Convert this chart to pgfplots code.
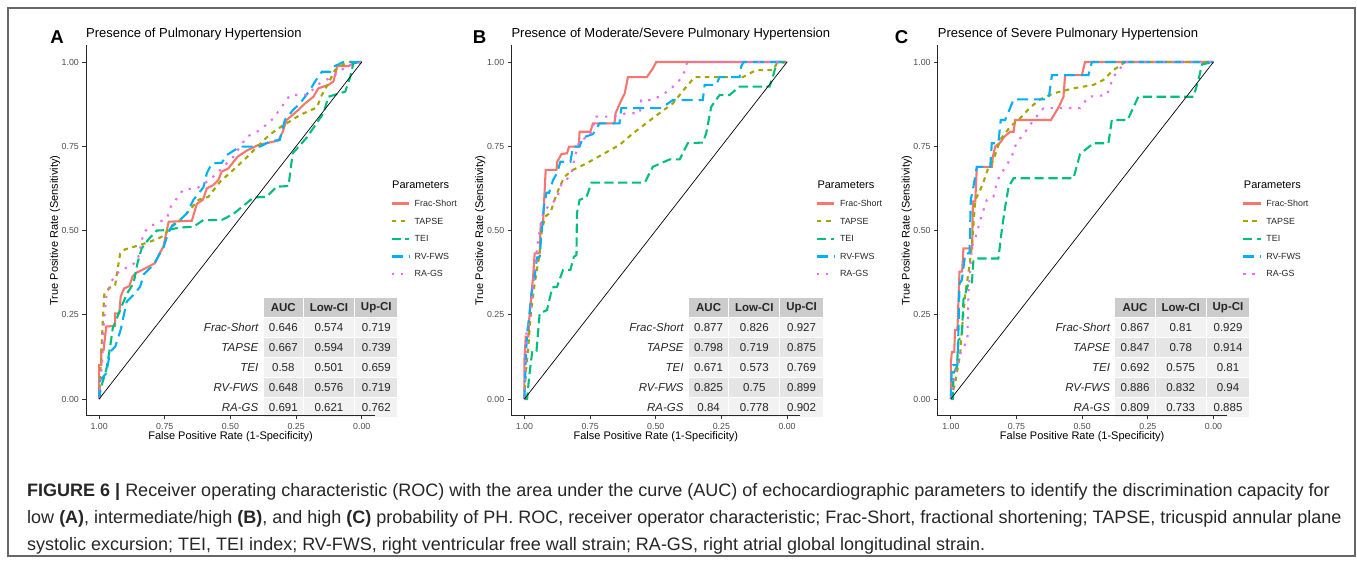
\documentclass[border=0pt]{standalone}
\usepackage{fontspec}
\setmainfont{Liberation Sans}
\usepackage{pgfplots}
\pgfplotsset{compat=1.18}

\definecolor{cFS}{HTML}{F8766D}
\definecolor{cTA}{HTML}{A3A500}
\definecolor{cTE}{HTML}{00BF7D}
\definecolor{cRV}{HTML}{00B0F6}
\definecolor{cRA}{HTML}{E76BF3}
\definecolor{g95}{gray}{0.95}
\definecolor{g90}{gray}{0.90}
\definecolor{g80}{gray}{0.80}
\definecolor{g30}{gray}{0.30}

\newcommand\fs[1]{\fontsize{#1}{#1}\selectfont}

\tikzset{
  rocfs/.style={draw=cFS, line width=2.1pt},
  rocta/.style={draw=cTA, line width=2.1pt, dash pattern=on 4.6pt off 4.6pt},
  rocte/.style={draw=cTE, line width=2.1pt, dash pattern=on 9.2pt off 4.6pt},
  rocrv/.style={draw=cRV, line width=2.1pt, dash pattern=on 11pt off 6pt},
  rocra/.style={draw=cRA, line width=2.1pt, dash pattern=on 2.3pt off 6.9pt},
}

\pgfplotsset{rocax/.style={
  scale only axis, width=288.9pt, height=370.7pt,
  xmin=-0.05, xmax=1.05, ymin=-0.05, ymax=1.05,
  x dir=reverse,
  axis x line*=bottom, axis y line*=left,
  axis line style={black!85, line width=0.9pt},
  xtick={0,0.25,0.5,0.75,1}, ytick={0,0.25,0.5,0.75,1},
  tick align=outside, major tick length=3.6pt,
  tick style={black!80, line width=0.9pt},
  ticklabel style={font=\fs{8.8}, text=g30},
  /pgf/number format/.cd, fixed, fixed zerofill, precision=2, assume math mode=true,
  /pgfplots/.cd,
}}

% panel decorations: X0, letter x, letter, title
\newcommand\panel[4]{%
  \node[anchor=base, inner sep=0, font=\fs{18.6}\bfseries] at (#2,43.3) {#3};
  \node[anchor=base west, inner sep=0, font=\fs{13}] at (#1,37.3) {#4};
  \node[rotate=90, inner sep=0, font=\fs{11}] at ({#1-31},230.5) {True Positive Rate (Sensitivity)};
  \node[inner sep=0, font=\fs{11}] at ({#1+144.5},436.7) {False Positive Rate (1-Specificity)};
  \node[anchor=west, inner sep=0, font=\fs{11}] at ({#1+306},185) {Parameters};
  \draw[rocfs, line width=2.4pt] ({#1+305.5},203.5) -- ++(17.3,0);
  \draw[rocta, line width=2.4pt] ({#1+305.5},221.1) -- ++(17.3,0);
  \draw[rocte, line width=2.4pt] ({#1+305.5},238.7) -- ++(17.3,0);
  \draw[rocrv, line width=2.4pt] ({#1+305.5},256.3) -- ++(17.3,0);
  \draw[rocra, line width=2.4pt] ({#1+305.5},273.9) -- ++(17.3,0);
  \foreach \n [count=\i from 0] in {Frac-Short, TAPSE, TEI, RV-FWS, RA-GS}
    \node[anchor=west, inner sep=0, font=\fs{8.9}, text=black!85] at ({#1+328.5},{203.5+17.6*\i}) {\n};
}

% AUC table: X0, rows
\newcommand\roctable[2]{%
  \filldraw[fill=g80, draw=white, line width=1.2pt]
    ({#1+177},297.5) rectangle ({#1+217.5},317.5)
    ({#1+217.5},297.5) rectangle ({#1+268.5},317.5)
    ({#1+268.5},297.5) rectangle ({#1+312},317.5);
  \node[font=\fs{11.5}\bfseries, text=black!85] at ({#1+197.3},307.5) {AUC};
  \node[font=\fs{11.5}\bfseries, text=black!85] at ({#1+243},307.5) {Low-CI};
  \node[font=\fs{11.5}\bfseries, text=black!85] at ({#1+290.3},307.5) {Up-CI};
  \foreach \lab/\a/\b/\c [count=\i] in {#2} {
    \pgfmathsetmacro\yt{297.5+20*\i}
    \ifodd\i \def\cc{g95}\else\def\cc{g90}\fi
    \filldraw[fill=\cc, draw=white, line width=1.2pt]
      ({#1+177},\yt) rectangle ({#1+217.5},{\yt+20})
      ({#1+217.5},\yt) rectangle ({#1+268.5},{\yt+20})
      ({#1+268.5},\yt) rectangle ({#1+312},{\yt+20});
    \node[anchor=east, inner sep=0, font=\fs{11.5}\itshape, text=black!85] at ({#1+172.5},{\yt+10}) {\lab};
    \node[font=\fs{11.5}, text=black!85] at ({#1+197.3},{\yt+10}) {\a};
    \node[font=\fs{11.5}, text=black!85] at ({#1+243},{\yt+10}) {\b};
    \node[font=\fs{11.5}, text=black!85] at ({#1+290.3},{\yt+10}) {\c};
  }
}

\begin{document}
\begin{tikzpicture}
\begin{scope}[x=1pt, y=-1pt]
  \path[use as bounding box] (0,0) rectangle (1357,560);
  \draw[black!60, line width=1.2pt] (8,8) rectangle (1355,556);
  \roctable{86}{Frac-Short/0.646/0.574/0.719, TAPSE/0.667/0.594/0.739, TEI/0.58/0.501/0.659, RV-FWS/0.648/0.576/0.719, RA-GS/0.691/0.621/0.762}
  \roctable{511.3}{Frac-Short/0.877/0.826/0.927, TAPSE/0.798/0.719/0.875, TEI/0.671/0.573/0.769, RV-FWS/0.825/0.75/0.899, RA-GS/0.84/0.778/0.902}
  \roctable{937.7}{Frac-Short/0.867/0.81/0.929, TAPSE/0.847/0.78/0.914, TEI/0.692/0.575/0.81, RV-FWS/0.886/0.832/0.94, RA-GS/0.809/0.733/0.885}
  \panel{86}{57}{A}{Presence of Pulmonary Hypertension}
  \panel{511.3}{479.5}{B}{Presence of Moderate/Severe Pulmonary Hypertension}
  \panel{937.7}{901.7}{C}{Presence of Severe Pulmonary Hypertension}
  \node[anchor=base west, inner sep=0, font=\fs{18}, text=black!85] at (27,496.5)
    {\textbf{FIGURE 6 |} Receiver operating characteristic (ROC) with the area under the curve (AUC) of echocardiographic parameters to identify the discrimination capacity for};
  \node[anchor=base west, inner sep=0, font=\fs{18}, text=black!85] at (27,523.5)
    {low \textbf{(A)}, intermediate/high \textbf{(B)}, and high \textbf{(C)} probability of PH. ROC, receiver operator characteristic; Frac-Short, fractional shortening; TAPSE, tricuspid annular plane};
  \node[anchor=base west, inner sep=0, font=\fs{18}, text=black!85] at (27,550)
    {systolic excursion; TEI, TEI index; RV-FWS, right ventricular free wall strain; RA-GS, right atrial global longitudinal strain.};
\end{scope}

% ---------- A ----------
\begin{axis}[rocax, at={(86pt,-415.85pt)}, anchor=south west]
\addplot[rocfs] coordinates {(1,0) (1,0.101) (0.992,0.101) (0.992,0.145) (0.983,0.145) (0.973,0.215) (0.939,0.217) (0.939,0.254) (0.923,0.254) (0.918,0.304) (0.905,0.328) (0.885,0.335) (0.872,0.365) (0.857,0.375) (0.831,0.385) (0.787,0.403) (0.770,0.432) (0.755,0.452) (0.745,0.492) (0.735,0.526) (0.647,0.529) (0.628,0.579) (0.605,0.591) (0.590,0.625) (0.565,0.635) (0.546,0.650) (0.533,0.675) (0.508,0.684) (0.473,0.719) (0.438,0.737) (0.393,0.754) (0.317,0.767) (0.301,0.793) (0.286,0.828) (0.241,0.858) (0.216,0.877) (0.184,0.897) (0.165,0.922) (0.127,0.932) (0.108,0.942) (0.093,0.988) (0.051,0.988) (0.025,0.998) (0,1)};
\addplot[rocta] coordinates {(1,0) (0.994,0.096) (0.986,0.234) (0.980,0.314) (0.958,0.331) (0.939,0.338) (0.920,0.432) (0.901,0.444) (0.844,0.457) (0.780,0.474) (0.749,0.487) (0.730,0.511) (0.692,0.531) (0.660,0.556) (0.622,0.591) (0.584,0.600) (0.539,0.645) (0.489,0.680) (0.438,0.717) (0.400,0.747) (0.362,0.776) (0.324,0.800) (0.286,0.818) (0.235,0.843) (0.171,0.865) (0.152,0.902) (0.127,0.937) (0.102,0.976) (0.057,1) (0,1)};
\addplot[rocte] coordinates {(1,0) (0.994,0.032) (0.973,0.086) (0.958,0.155) (0.948,0.210) (0.933,0.239) (0.918,0.269) (0.893,0.314) (0.869,0.343) (0.854,0.403) (0.838,0.447) (0.812,0.474) (0.780,0.500) (0.742,0.501) (0.692,0.509) (0.641,0.511) (0.603,0.531) (0.533,0.531) (0.489,0.549) (0.412,0.598) (0.362,0.600) (0.324,0.630) (0.279,0.632) (0.263,0.729) (0.209,0.776) (0.146,0.848) (0.127,0.897) (0.063,0.912) (0.044,0.956) (0.032,0.996) (0,1)};
\addplot[rocrv] coordinates {(1,0) (0.996,0.056) (0.973,0.076) (0.958,0.140) (0.939,0.155) (0.918,0.205) (0.895,0.289) (0.869,0.309) (0.844,0.333) (0.829,0.371) (0.793,0.398) (0.755,0.450) (0.742,0.480) (0.727,0.509) (0.692,0.531) (0.666,0.551) (0.641,0.591) (0.603,0.628) (0.590,0.670) (0.571,0.699) (0.533,0.701) (0.514,0.724) (0.463,0.749) (0.387,0.749) (0.350,0.764) (0.312,0.769) (0.293,0.828) (0.261,0.858) (0.235,0.877) (0.197,0.917) (0.178,0.942) (0.152,0.971) (0.121,0.971) (0.108,0.986) (0.070,1) (0,1)};
\addplot[rocra] coordinates {(1,0) (0.996,0.046) (0.989,0.106) (0.981,0.234) (0.971,0.314) (0.952,0.351) (0.920,0.383) (0.882,0.393) (0.854,0.410) (0.831,0.492) (0.810,0.511) (0.768,0.526) (0.742,0.536) (0.727,0.571) (0.679,0.622) (0.628,0.625) (0.579,0.650) (0.539,0.680) (0.489,0.719) (0.438,0.778) (0.387,0.798) (0.336,0.833) (0.273,0.902) (0.209,0.902) (0.159,0.937) (0.108,0.958) (0.057,0.988) (0,1)};
\addplot[black, line width=0.7pt] coordinates {(1,0) (0,1)};
\end{axis}

% ---------- B ----------
\begin{axis}[rocax, at={(511.3pt,-415.85pt)}, anchor=south west]
\addplot[rocfs] coordinates {(1,0) (1,0.116) (0.995,0.185) (0.985,0.185) (0.982,0.234) (0.973,0.314) (0.967,0.363) (0.961,0.432) (0.942,0.432) (0.938,0.521) (0.929,0.526) (0.919,0.680) (0.878,0.680) (0.875,0.704) (0.859,0.727) (0.838,0.729) (0.830,0.749) (0.793,0.749) (0.790,0.793) (0.749,0.793) (0.739,0.818) (0.657,0.818) (0.653,0.848) (0.631,0.887) (0.618,0.907) (0.606,0.955) (0.534,0.955) (0.511,0.981) (0.498,1) (0,1)};
\addplot[rocta] coordinates {(1,0) (0.995,0.076) (0.986,0.145) (0.977,0.244) (0.961,0.343) (0.942,0.432) (0.935,0.492) (0.922,0.541) (0.901,0.553) (0.885,0.591) (0.866,0.630) (0.847,0.660) (0.815,0.680) (0.764,0.699) (0.714,0.721) (0.638,0.754) (0.587,0.788) (0.537,0.818) (0.486,0.848) (0.435,0.877) (0.385,0.925) (0.352,0.955) (0.169,0.955) (0.118,0.976) (0.054,0.976) (0.039,0.996) (0,1)};
\addplot[rocte] coordinates {(1,0) (0.990,0) (0.982,0.066) (0.970,0.143) (0.954,0.143) (0.942,0.254) (0.914,0.264) (0.894,0.331) (0.876,0.333) (0.853,0.383) (0.825,0.383) (0.812,0.422) (0.802,0.427) (0.800,0.551) (0.790,0.591) (0.764,0.598) (0.745,0.642) (0.542,0.642) (0.511,0.689) (0.447,0.711) (0.409,0.711) (0.378,0.759) (0.321,0.761) (0.308,0.788) (0.289,0.867) (0.257,0.902) (0.219,0.902) (0.181,0.927) (0.067,0.927) (0.054,0.956) (0.039,1) (0,1)};
\addplot[rocrv] coordinates {(1,0) (0.995,0.116) (0.990,0.195) (0.982,0.244) (0.973,0.314) (0.961,0.363) (0.952,0.420) (0.942,0.422) (0.935,0.492) (0.926,0.571) (0.916,0.612) (0.906,0.612) (0.891,0.650) (0.876,0.670) (0.863,0.704) (0.825,0.704) (0.815,0.749) (0.790,0.749) (0.777,0.776) (0.739,0.786) (0.714,0.818) (0.638,0.818) (0.631,0.863) (0.479,0.863) (0.435,0.887) (0.321,0.887) (0.314,0.932) (0.270,0.932) (0.257,0.955) (0.181,0.955) (0.175,0.986) (0.166,1) (0,1)};
\addplot[rocra] coordinates {(1,0) (0.997,0.096) (0.992,0.205) (0.979,0.234) (0.972,0.294) (0.960,0.393) (0.948,0.472) (0.929,0.551) (0.903,0.579) (0.878,0.591) (0.859,0.638) (0.840,0.650) (0.821,0.670) (0.808,0.719) (0.789,0.769) (0.752,0.778) (0.727,0.838) (0.663,0.838) (0.612,0.848) (0.561,0.848) (0.555,0.887) (0.511,0.887) (0.447,0.917) (0.409,0.947) (0.387,0.976) (0.381,1) (0,1)};
\addplot[black, line width=0.7pt] coordinates {(1,0) (0,1)};
\end{axis}

% ---------- C ----------
\begin{axis}[rocax, at={(937.7pt,-415.85pt)}, anchor=south west]
\addplot[rocfs] coordinates {(1,0) (1,0.106) (0.996,0.140) (0.987,0.140) (0.984,0.205) (0.975,0.205) (0.970,0.314) (0.967,0.378) (0.957,0.378) (0.952,0.447) (0.919,0.447) (0.916,0.586) (0.907,0.586) (0.901,0.689) (0.844,0.689) (0.840,0.719) (0.831,0.749) (0.812,0.761) (0.797,0.778) (0.774,0.793) (0.761,0.793) (0.755,0.828) (0.619,0.828) (0.590,0.865) (0.571,0.897) (0.565,0.961) (0.501,0.961) (0.489,1) (0,1)};
\addplot[rocta] coordinates {(1,0) (0.984,0.046) (0.964,0.136) (0.958,0.205) (0.945,0.314) (0.933,0.373) (0.920,0.452) (0.907,0.591) (0.888,0.620) (0.873,0.650) (0.860,0.680) (0.838,0.709) (0.812,0.769) (0.774,0.808) (0.736,0.833) (0.698,0.865) (0.660,0.889) (0.609,0.907) (0.533,0.922) (0.457,0.932) (0.419,0.947) (0.381,0.976) (0.336,1) (0,1)};
\addplot[rocte] coordinates {(1,0) (0.992,0) (0.990,0.076) (0.977,0.096) (0.971,0.175) (0.958,0.185) (0.952,0.294) (0.933,0.343) (0.920,0.343) (0.914,0.412) (0.898,0.417) (0.819,0.417) (0.806,0.501) (0.793,0.571) (0.780,0.630) (0.761,0.655) (0.533,0.655) (0.508,0.727) (0.457,0.759) (0.400,0.759) (0.387,0.828) (0.327,0.828) (0.286,0.897) (0.076,0.897) (0.057,0.947) (0.044,0.993) (0,1)};
\addplot[rocrv] coordinates {(1,0) (0.996,0.096) (0.992,0.101) (0.975,0.101) (0.971,0.205) (0.967,0.343) (0.958,0.353) (0.945,0.432) (0.929,0.432) (0.924,0.591) (0.914,0.630) (0.901,0.689) (0.850,0.689) (0.844,0.759) (0.819,0.759) (0.810,0.828) (0.793,0.828) (0.761,0.889) (0.628,0.889) (0.615,0.961) (0.476,0.961) (0.463,1) (0,1)};
\addplot[rocra] coordinates {(1,0) (0.990,0.046) (0.980,0.086) (0.964,0.136) (0.937,0.175) (0.933,0.314) (0.920,0.452) (0.901,0.492) (0.888,0.531) (0.863,0.591) (0.838,0.600) (0.822,0.650) (0.799,0.680) (0.768,0.719) (0.751,0.759) (0.721,0.788) (0.685,0.828) (0.647,0.863) (0.508,0.863) (0.476,0.897) (0.406,0.902) (0.381,0.956) (0.336,1) (0,1)};
\addplot[black, line width=0.7pt] coordinates {(1,0) (0,1)};
\end{axis}
\end{tikzpicture}
\end{document}
